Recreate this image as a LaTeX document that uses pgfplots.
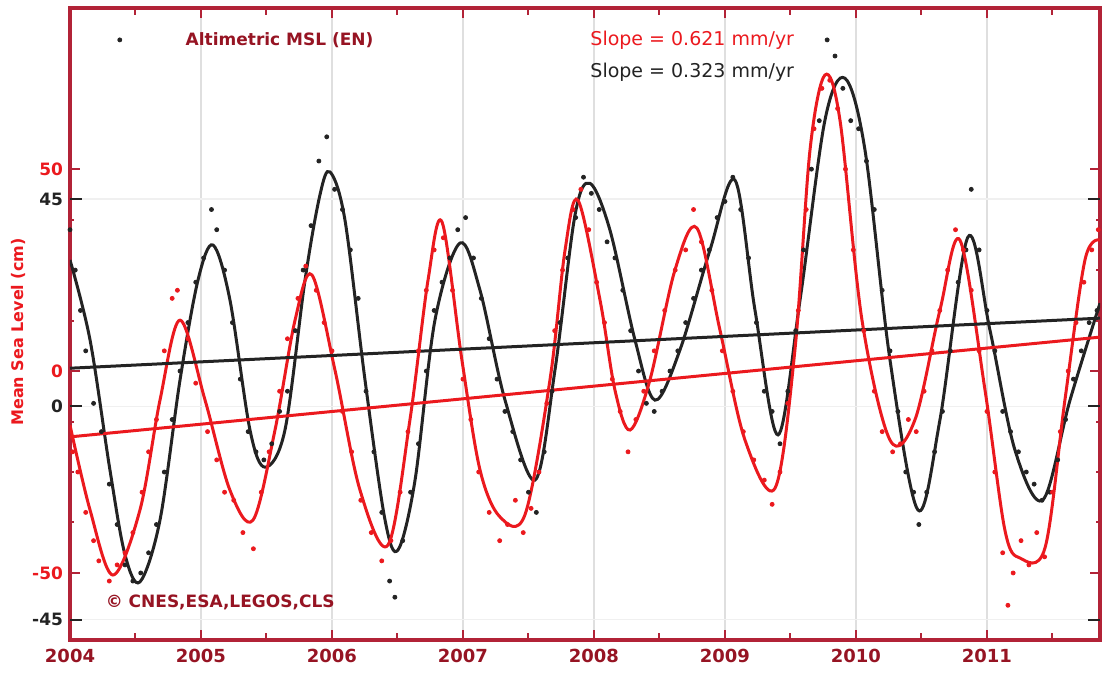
\documentclass[border=0pt]{standalone}
\usepackage{pgfplots}
\pgfplotsset{compat=1.18}
\usepackage{fontspec}
\setmainfont{DejaVu Sans}
\definecolor{frame}{RGB}{178,35,55}
\definecolor{msl}{RGB}{235,25,30}
\definecolor{blk}{RGB}{35,35,35}
\definecolor{ttl}{RGB}{150,20,35}

\begin{document}
\begin{tikzpicture}
\begin{axis}[
    scale only axis,
    width=515pt, height=316pt,
    xmin=2004, xmax=2011.863,
    ymin=-66.6, ymax=89.9,
    axis line style={frame, line width=2pt},
    tick style={frame, line width=1pt},
    xtick={2004,...,2011},
    xticklabels={2004,2005,2006,2007,2008,2009,2010,2011},
    minor x tick num=11,
    major tick length=5pt,
    minor tick length=2pt,
    extra x ticks={2004.5,2005.5,2006.5,2007.5,2008.5,2009.5,2010.5,2011.5},
    extra x tick labels={},
    extra x tick style={major tick length=3.5pt, grid=none},
    xmajorgrids,
    major grid style={gray!25, line width=0.7pt},
    ytick={-50,0,50},
    yticklabels={-50,0,50},
    minor y tick num=3,
    extra y ticks={-61.6,-8.7,42.6},
    extra y tick labels={-45,0,45},
    extra y tick style={
        tick style={blk, line width=1pt},
        ymajorgrids=true,
        major grid style={gray!12, line width=0.6pt},
        major tick length=6pt,
        yticklabel style={text=blk},
    },
    yticklabel style={text=msl, font=\fontsize{8.5}{9}\selectfont\bfseries},
    xticklabel style={text=ttl, font=\fontsize{9}{10}\selectfont\bfseries, yshift=-1pt},
]
\addplot[only marks, mark=*, mark size=1pt, color=blk] coordinates {
(2004.00,35) (2004.04,25) (2004.08,15) (2004.12,5) (2004.18,-8) (2004.24,-15)
(2004.30,-28) (2004.36,-38) (2004.42,-48) (2004.48,-52) (2004.54,-50) (2004.60,-45)
(2004.66,-38) (2004.72,-25) (2004.78,-12) (2004.84,0) (2004.90,12) (2004.96,22)
(2005.02,28) (2005.08,40) (2005.12,35) (2005.18,25) (2005.24,12) (2005.30,-2)
(2005.36,-15) (2005.42,-20) (2005.48,-22) (2005.54,-18) (2005.60,-10) (2005.66,-5)
(2005.72,10) (2005.78,25) (2005.84,36) (2005.90,52) (2005.96,58) (2006.02,45)
(2006.08,40) (2006.14,30) (2006.20,18) (2006.26,-5) (2006.32,-20) (2006.38,-35)
(2006.44,-52) (2006.48,-56) (2006.54,-42) (2006.60,-30) (2006.66,-18) (2006.72,0)
(2006.78,15) (2006.84,22) (2006.90,28) (2006.96,35) (2007.02,38) (2007.08,28)
(2007.14,18) (2007.20,8) (2007.26,-2) (2007.32,-10) (2007.38,-15) (2007.44,-22)
(2007.50,-30) (2007.56,-35) (2007.62,-20) (2007.68,-5) (2007.74,12) (2007.80,28)
(2007.86,38) (2007.92,48) (2007.98,44) (2008.04,40) (2008.10,32) (2008.16,28)
(2008.22,20) (2008.28,10) (2008.34,0) (2008.40,-8) (2008.46,-10) (2008.52,-5)
(2008.58,0) (2008.64,5) (2008.70,12) (2008.76,18) (2008.82,25) (2008.88,30)
(2008.94,38) (2009.00,42) (2009.06,48) (2009.12,40) (2009.18,28) (2009.24,12)
(2009.30,-5) (2009.36,-10) (2009.42,-18) (2009.48,-5) (2009.54,10) (2009.60,30)
(2009.66,50) (2009.72,62) (2009.78,82) (2009.84,78) (2009.90,70) (2009.96,62)
(2010.02,60) (2010.08,52) (2010.14,40) (2010.20,20) (2010.26,5) (2010.32,-10)
(2010.38,-25) (2010.44,-30) (2010.48,-38) (2010.54,-30) (2010.60,-20) (2010.66,-10)
(2010.72,5) (2010.78,22) (2010.84,30) (2010.88,45) (2010.94,30) (2011.00,15)
(2011.06,5) (2011.12,-10) (2011.18,-15) (2011.24,-20) (2011.30,-25) (2011.36,-28)
(2011.42,-32) (2011.48,-30) (2011.54,-22) (2011.60,-12) (2011.66,-2) (2011.72,5)
(2011.78,12) (2011.84,15) (2004.38,82)
};
\addplot[only marks, mark=*, mark size=1pt, color=msl] coordinates {
(2004.02,-20) (2004.06,-25) (2004.12,-35) (2004.18,-42) (2004.22,-47) (2004.30,-52)
(2004.36,-48) (2004.42,-45) (2004.48,-40) (2004.55,-30) (2004.60,-20) (2004.66,-12)
(2004.72,5) (2004.78,18) (2004.82,20) (2004.90,8) (2004.96,-3) (2005.05,-15)
(2005.12,-22) (2005.18,-30) (2005.25,-32) (2005.32,-40) (2005.40,-44) (2005.46,-30)
(2005.52,-20) (2005.60,-5) (2005.66,8) (2005.74,18) (2005.80,26) (2005.88,20)
(2005.94,12) (2006.00,5) (2006.08,-10) (2006.15,-20) (2006.22,-32) (2006.30,-40)
(2006.38,-47) (2006.45,-42) (2006.52,-30) (2006.58,-15) (2006.66,5) (2006.72,20)
(2006.78,30) (2006.85,33) (2006.92,20) (2007.00,-2) (2007.06,-12) (2007.12,-25)
(2007.20,-35) (2007.28,-42) (2007.34,-38) (2007.40,-32) (2007.46,-40) (2007.52,-34)
(2007.58,-25) (2007.64,-8) (2007.70,10) (2007.76,25) (2007.84,40) (2007.90,45)
(2007.96,35) (2008.02,22) (2008.08,12) (2008.14,-2) (2008.20,-10) (2008.26,-20)
(2008.32,-12) (2008.38,-5) (2008.46,5) (2008.54,15) (2008.62,25) (2008.70,30)
(2008.76,40) (2008.82,32) (2008.90,20) (2008.98,5) (2009.06,-5) (2009.14,-15)
(2009.22,-22) (2009.30,-27) (2009.36,-33) (2009.42,-25) (2009.48,-8) (2009.56,15)
(2009.62,40) (2009.68,60) (2009.74,70) (2009.80,72) (2009.86,65) (2009.92,50)
(2009.98,30) (2010.06,10) (2010.14,-5) (2010.20,-15) (2010.28,-20) (2010.34,-18)
(2010.40,-12) (2010.46,-15) (2010.52,-5) (2010.58,5) (2010.64,15) (2010.70,25)
(2010.76,35) (2010.82,30) (2010.88,20) (2010.94,5) (2011.00,-10) (2011.06,-25)
(2011.12,-45) (2011.16,-58) (2011.20,-50) (2011.26,-42) (2011.32,-48) (2011.38,-40)
(2011.44,-46) (2011.50,-30) (2011.56,-15) (2011.62,0) (2011.68,12) (2011.74,22)
(2011.80,30) (2011.85,35)
};
% smoothed black curve
\addplot[blk, line width=1.5pt, smooth, tension=0.55] coordinates {
(2004.000,27.5) (2004.153,7.7) (2004.305,-24.5) (2004.420,-45.5) (2004.534,-52.2)
(2004.687,-36.9) (2004.840,-2.2) (2004.977,22.5) (2005.092,31.2) (2005.221,17.6)
(2005.374,-14.6) (2005.489,-23.8) (2005.641,-14.6) (2005.794,22.5) (2005.908,43.6)
(2005.985,49.3) (2006.099,37.4) (2006.252,-2.2) (2006.405,-36.9) (2006.504,-44.3)
(2006.634,-27.0) (2006.786,12.6) (2006.977,31.7) (2007.130,20.0) (2007.321,-7.2)
(2007.550,-27.0) (2007.702,0.2) (2007.855,38.6) (2007.969,46.5) (2008.122,34.9)
(2008.313,7.7) (2008.466,-7.2) (2008.656,5.2) (2008.885,29.9) (2009.076,47.3)
(2009.229,15.1) (2009.405,-15.8) (2009.573,17.6) (2009.763,62.1) (2009.916,72.5)
(2010.069,54.7) (2010.260,2.7) (2010.473,-34.4) (2010.641,-12.1) (2010.855,33.2)
(2011.023,10.1) (2011.214,-19.6) (2011.427,-31.9) (2011.634,-7.2) (2011.863,16.8)
};
% smoothed red curve
\addplot[msl, line width=1.5pt, smooth, tension=0.55] coordinates {
(2004.000,-13.4) (2004.153,-34.4) (2004.328,-50.5) (2004.534,-34.4) (2004.687,-7.2)
(2004.840,12.6) (2005.031,-7.2) (2005.221,-29.5) (2005.397,-36.9) (2005.565,-14.6)
(2005.718,12.6) (2005.847,23.8) (2006.023,0.2) (2006.214,-29.5) (2006.427,-43.1)
(2006.595,-12.1) (2006.733,22.5) (2006.840,36.9) (2006.992,2.7) (2007.130,-24.5)
(2007.282,-36.1) (2007.473,-35.6) (2007.664,-2.2) (2007.779,29.9) (2007.878,42.3)
(2008.046,17.6) (2008.160,-4.7) (2008.275,-14.6) (2008.427,-2.2) (2008.618,25.0)
(2008.786,35.4) (2008.962,10.1) (2009.153,-17.1) (2009.382,-29.0) (2009.534,5.2)
(2009.649,54.7) (2009.763,73.3) (2009.878,62.1) (2010.046,12.6) (2010.260,-17.1)
(2010.450,-12.1) (2010.641,15.1) (2010.794,32.4) (2010.985,-4.7) (2011.137,-39.4)
(2011.252,-46.3) (2011.443,-43.8) (2011.595,-7.2) (2011.748,27.5) (2011.863,32.4)
};
% trends
\addplot[blk, line width=1.5pt] coordinates {(2004,0.7) (2011.863,13.1)};
\addplot[msl, line width=1.5pt] coordinates {(2004,-16.3) (2011.863,8.4)};

\node[text=ttl, font=\fontsize{8.5}{10}\selectfont\bfseries] at (axis cs:2005.60,81.9) {Altimetric MSL (EN)};
\node[anchor=west, inner sep=0pt, text=msl, font=\fontsize{9.5}{11}\selectfont] at (axis cs:2007.97,81.9) {Slope = 0.621 mm/yr};
\node[anchor=west, inner sep=0pt, text=blk, font=\fontsize{9.5}{11}\selectfont] at (axis cs:2007.97,74.0) {Slope = 0.323 mm/yr};
\node[anchor=west, inner sep=0pt, text=ttl, font=\fontsize{8.5}{10}\selectfont\bfseries] at (axis cs:2004.27,-57.4) {© CNES,ESA,LEGOS,CLS};
\end{axis}
\node[rotate=90, text=msl, font=\fontsize{8}{9}\selectfont\bfseries] at ([xshift=-26pt,yshift=-4pt]current axis.west) {Mean Sea Level (cm)};
\path ([shift={(-35pt,-16.5pt)}]current axis.south west) rectangle ([shift={(1pt,4pt)}]current axis.north east);
\end{tikzpicture}
\end{document}
